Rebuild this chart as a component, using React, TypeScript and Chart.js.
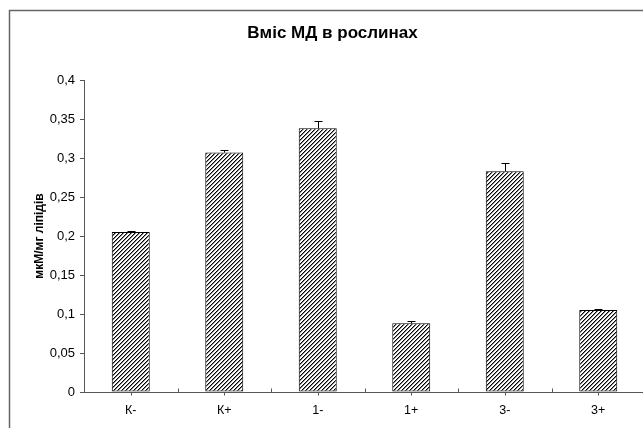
import React, { useEffect, useRef } from 'react';
import { Chart, registerables } from 'chart.js';
Chart.register(...registerables);

const chartTitle = 'Вміс МД в рослинах';
const yAxisTitle = 'мкМ/мг ліпідів';
const categories = ['К-', 'К+', '1-', '1+', '3-', '3+'];
const values = [0.205, 0.307, 0.338, 0.088, 0.283, 0.105];
const errors = [0.001, 0.003, 0.010, 0.003, 0.010, 0.001];
const yTickValues = [0, 0.05, 0.1, 0.15, 0.2, 0.25, 0.3, 0.35, 0.4];

const FONT = '"Liberation Sans", Arial, sans-serif';
const AXIS = '#555';

export default function App() {
  const ref = useRef<HTMLCanvasElement | null>(null);

  useEffect(() => {
    const canvas = ref.current!;
    const ctx = canvas.getContext('2d')!;
    const tile = document.createElement('canvas');
    tile.width = 4;
    tile.height = 4;
    const tctx = tile.getContext('2d')!;
    tctx.fillStyle = '#fff';
    tctx.fillRect(0, 0, 4, 4);
    for (let y = 0; y < 4; y++) {
      tctx.fillStyle = '#000';
      tctx.fillRect(3 - y, y, 1, 1);
      tctx.fillStyle = '#888';
      tctx.fillRect((4 - y) % 4, y, 1, 1);
    }
    const hatch = ctx.createPattern(tile, 'repeat')!;

    const framePlugin = {
      id: 'frame',
      afterDraw(chart: any) {
        const c = chart.ctx;
        c.save();
        c.strokeStyle = '#666';
        c.lineWidth = 1.5;
        c.beginPath();
        c.moveTo(9.5, chart.height);
        c.lineTo(9.5, 10.5);
        c.lineTo(chart.width, 10.5);
        c.stroke();
        c.restore();
      },
    };

    const errorPlugin = {
      id: 'errbars',
      afterDatasetsDraw(chart: any) {
        const c = chart.ctx;
        const ys = chart.scales.y;
        const meta = chart.getDatasetMeta(0);
        c.save();
        c.strokeStyle = '#000';
        c.lineWidth = 1;
        meta.data.forEach((bar: any, i: number) => {
          const x = Math.round(bar.x) + 0.5;
          const yv = ys.getPixelForValue(values[i]);
          const ye = Math.round(ys.getPixelForValue(values[i] + errors[i])) + 0.5;
          c.beginPath();
          c.moveTo(x, yv);
          c.lineTo(x, ye);
          c.moveTo(x - 4, ye);
          c.lineTo(x + 4, ye);
          c.stroke();
        });
        c.restore();
      },
    };

    const xTickPlugin = {
      id: 'xticks',
      afterDraw(chart: any) {
        const c = chart.ctx;
        const xs = chart.scales.x;
        const area = chart.chartArea;
        const n = categories.length;
        const w = (area.right - area.left) / n;
        const yAxis = Math.round(area.bottom) + 0.5;
        c.save();
        c.strokeStyle = AXIS;
        c.lineWidth = 1;
        c.beginPath();
        for (let i = 1; i < n; i++) {
          const x = Math.round(area.left + i * w) + 0.5;
          c.moveTo(x, yAxis - 4);
          c.lineTo(x, yAxis);
        }
        for (let i = 0; i < n; i++) {
          const x = Math.round(xs.getPixelForValue(i)) + 0.5;
          c.moveTo(x, yAxis);
          c.lineTo(x, yAxis + 3);
        }
        c.stroke();
        c.restore();
      },
    };

    const chart = new Chart(canvas, {
      type: 'bar',
      data: {
        labels: categories,
        datasets: [
          {
            data: values,
            backgroundColor: hatch,
            borderColor: '#000',
            borderWidth: 1,
            borderSkipped: false,
            barPercentage: 0.406,
            categoryPercentage: 1,
          },
        ],
      },
      options: {
        responsive: false,
        animation: false,
        events: [],
        layout: { padding: { top: 15, right: 19, left: 20, bottom: 0 } },
        plugins: {
          legend: { display: false },
          tooltip: { enabled: false },
          title: {
            display: true,
            text: chartTitle,
            color: '#000',
            font: { family: FONT, size: 17, weight: 'bold' },
            padding: { top: 8, bottom: 36.6 },
          },
        },
        scales: {
          x: {
            offset: true,
            grid: { display: false, drawTicks: false },
            border: { display: true, color: AXIS, width: 1 },
            ticks: { color: '#000', font: { family: FONT, size: 12.5 }, padding: 11 },
            afterFit: (s: any) => {
              s.height = 36;
            },
          },
          y: {
            min: 0,
            max: 0.4,
            afterBuildTicks: (s: any) => {
              s.ticks = yTickValues.map((v) => ({ value: v }));
            },
            ticks: {
              color: '#000',
              font: { family: FONT, size: 13 },
              padding: 5,
              callback: (v: any) => String(+Number(v).toFixed(2)).replace('.', ','),
            },
            grid: { drawOnChartArea: false, tickLength: 4, color: AXIS },
            border: { display: true, color: AXIS, width: 1 },
            title: {
              display: true,
              text: yAxisTitle,
              color: '#000',
              font: { family: FONT, size: 12, weight: 'bold' },
              padding: { top: 12, bottom: 0 },
            },
            afterFit: (s: any) => {
              s.width = 64;
            },
          },
        },
      },
      plugins: [framePlugin, errorPlugin, xTickPlugin],
    } as any);

    return () => chart.destroy();
  }, []);

  return (
    <div
      style={{
        position: 'absolute',
        left: 0,
        top: 0,
        width: 643,
        height: 428,
        overflow: 'hidden',
        background: '#fff',
      }}
    >
      <canvas ref={ref} width={664} height={428} style={{ display: 'block', width: 664, height: 428 }} />
    </div>
  );
}
